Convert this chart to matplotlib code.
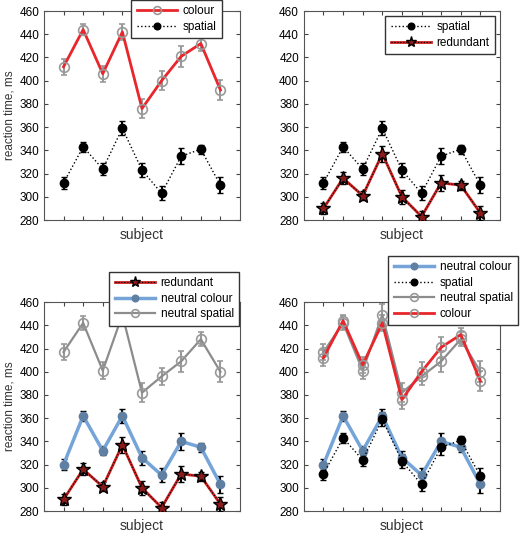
import matplotlib.pyplot as plt
from matplotlib.lines import Line2D
import numpy as np

plt.rcParams['font.family'] = ['Liberation Sans', 'DejaVu Sans']

subjects = np.arange(1, 10)

# mean reaction time per subject (ms) and error bars
colour = [412, 444, 406, 442, 376, 400, 421, 432, 392]
colour_err = [7, 5, 7, 7, 8, 8, 9, 6, 9]
spatial = [312, 343, 324, 359, 323, 303, 335, 341, 310]
spatial_err = [5, 4, 5, 6, 6, 6, 7, 4, 7]
redundant = [290, 316, 301, 337, 300, 283, 312, 310, 286]
redundant_err = [5, 5, 4, 7, 6, 5, 7, 4, 6]
neutral_colour = [320, 362, 332, 362, 326, 311, 340, 335, 303]
neutral_colour_err = [5, 4, 4, 6, 6, 6, 7, 4, 7]
neutral_spatial = [417, 442, 401, 449, 382, 396, 409, 428, 400]
neutral_spatial_err = [7, 6, 7, 9, 8, 7, 9, 6, 9]

yticks = np.arange(280, 461, 20)

# line styles shared by plot and legend
st_colour = dict(color='#e8262b', lw=2, marker='o', ms=7, mfc='none', mec='#999999', mew=1.2)
st_spatial = dict(color='black', lw=1, ls=':', marker='o', ms=6, mfc='black', mec='black')
st_red_line = dict(color='#cc1f1f', lw=2)
st_red_top = dict(color='black', lw=0.8, ls=':', marker='*', ms=10, mfc='#8b1a1a', mec='black', mew=1)
st_ncolour = dict(color='#74a4d8', lw=2.5, marker='o', ms=6, mfc='#5f7fa3', mec='#5f7fa3')
st_nspatial = dict(color='#8c8c8c', lw=1.6, marker='o', ms=7, mfc='none', mec='#999999', mew=1.2)

eb = dict(elinewidth=1.5, capsize=2)


def draw_colour(ax):
    ax.errorbar(subjects, colour, yerr=colour_err, ecolor='#999999', **eb, **st_colour)
    return Line2D([], [], **st_colour)


def draw_spatial(ax):
    ax.errorbar(subjects, spatial, yerr=spatial_err, ecolor='black', **eb, **st_spatial)
    return Line2D([], [], **st_spatial)


def draw_redundant(ax):
    ax.errorbar(subjects, redundant, yerr=redundant_err, ecolor='black', zorder=3,
                **eb, **st_red_line)
    ax.plot(subjects, redundant, zorder=4, **st_red_top)
    return (Line2D([], [], **st_red_line), Line2D([], [], **st_red_top))


def draw_neutral_colour(ax):
    ax.errorbar(subjects, neutral_colour, yerr=neutral_colour_err, ecolor='black',
                **eb, **st_ncolour)
    return Line2D([], [], **st_ncolour)


def draw_neutral_spatial(ax):
    ax.errorbar(subjects, neutral_spatial, yerr=neutral_spatial_err, ecolor='#999999',
                **eb, **st_nspatial)
    return Line2D([], [], **st_nspatial)


def style(ax, ylabel):
    ax.set_xlim(0, 10)
    ax.set_ylim(280, 460)
    ax.set_xticks(subjects)
    ax.set_xticklabels([])
    ax.set_yticks(yticks)
    ax.tick_params(direction='in', top=True, right=True, length=3, labelsize=8.5,
                   color='#444444')
    for s in ax.spines.values():
        s.set_color('#555555')
    ax.set_xlabel('subject', fontsize=10, color='#333333', labelpad=2)
    if ylabel:
        ax.set_ylabel('reaction time, ms', fontsize=8.5, color='#333333', labelpad=3)


def add_legend(ax, handles, labels, anchor):
    leg = ax.legend(handles, labels, loc='upper right', bbox_to_anchor=anchor,
                    borderaxespad=0, fontsize=8.5, fancybox=False, framealpha=1,
                    edgecolor='#333333', handlelength=3.4, labelspacing=0.3,
                    handletextpad=0.5, borderpad=0.45, markerscale=0.8)
    leg.get_frame().set_linewidth(1)
    leg.set_zorder(10)


fig = plt.figure(figsize=(5.23, 5.38), dpi=100)
w, h = 0.375, 0.3885
ax1 = fig.add_axes([0.084, 0.591, w, h])
ax2 = fig.add_axes([0.581, 0.591, w, h])
ax3 = fig.add_axes([0.084, 0.050, w, h])
ax4 = fig.add_axes([0.581, 0.050, w, h])

# top left
c = draw_colour(ax1)
s = draw_spatial(ax1)
style(ax1, True)
add_legend(ax1, [c, s], ['colour', 'spatial'], (0.908, 1.053))

# top right
s = draw_spatial(ax2)
r = draw_redundant(ax2)
style(ax2, False)
add_legend(ax2, [s, r], ['spatial', 'redundant'], (0.974, 0.976))

# bottom left
r = draw_redundant(ax3)
nc = draw_neutral_colour(ax3)
ns = draw_neutral_spatial(ax3)
style(ax3, True)
add_legend(ax3, [r, nc, ns], ['redundant', 'neutral colour', 'neutral spatial'],
           (0.995, 1.144))

# bottom right
nc = draw_neutral_colour(ax4)
s = draw_spatial(ax4)
ns = draw_neutral_spatial(ax4)
c = draw_colour(ax4)
style(ax4, False)
add_legend(ax4, [nc, s, ns, c], ['neutral colour', 'spatial', 'neutral spatial', 'colour'],
           (1.092, 1.22))

plt.savefig('out.png', dpi=100)
